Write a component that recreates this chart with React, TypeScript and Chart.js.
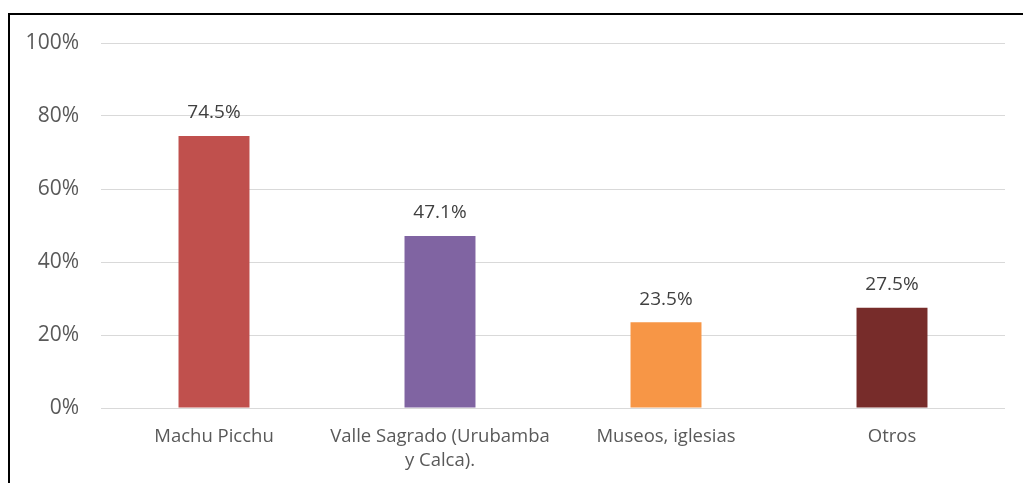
import React, { useEffect, useRef } from "react";
import { Chart, registerables } from "chart.js";

Chart.register(...registerables);

const categories: (string | string[])[] = [
  "Machu Picchu",
  ["Valle Sagrado (Urubamba", "y Calca)."],
  "Museos, iglesias",
  "Otros",
];
const values = [74.5, 47.1, 23.5, 27.5];
const barColors = ["#C0504D", "#8064A2", "#F79646", "#772C2A"];
const yTicks = [0, 20, 40, 60, 80, 100];

const FONT = "'Open Sans', 'DejaVu Sans', sans-serif";

const dataLabelPlugin = {
  id: "dataLabels",
  afterDatasetsDraw(chart: any) {
    const ctx = chart.ctx;
    const meta = chart.getDatasetMeta(0);
    ctx.save();
    ctx.font = `19px ${FONT}`;
    ctx.fillStyle = "#404040";
    ctx.textAlign = "center";
    ctx.textBaseline = "middle";
    meta.data.forEach((bar: any, i: number) => {
      ctx.fillText(values[i].toFixed(1) + "%", bar.x, bar.y - 23);
    });
    ctx.restore();
  },
};

export default function App() {
  const ref = useRef<HTMLCanvasElement>(null);
  useEffect(() => {
    if (!ref.current) return;
    const chart = new Chart(ref.current, {
      type: "bar",
      data: {
        labels: categories,
        datasets: [
          {
            data: values,
            backgroundColor: barColors,
            borderWidth: 0,
            categoryPercentage: 1,
            barPercentage: 0.314,
          },
        ],
      },
      options: {
        responsive: false,
        animation: false,
        layout: { padding: { top: 43, right: 18, left: 0, bottom: 0 } },
        plugins: { legend: { display: false }, tooltip: { enabled: false } },
        scales: {
          x: {
            grid: { display: false, drawTicks: false },
            border: { display: false },
            ticks: {
              color: "#595959",
              font: { family: FONT, size: 18.5, lineHeight: 1.3 },
              padding: 17,
              maxRotation: 0,
              autoSkip: false,
            },
            afterFit(scale: any) {
              scale.height = 75;
            },
          },
          y: {
            min: 0,
            max: 100,
            afterBuildTicks(scale: any) {
              scale.ticks = yTicks.map((v) => ({ value: v }));
            },
            grid: { color: "#D9D9D9", lineWidth: 1, drawTicks: false },
            border: { display: false },
            ticks: {
              color: "#595959",
              font: { family: FONT, size: 21 },
              padding: 22,
              callback: (v: any) => v + "%",
            },
            afterFit(scale: any) {
              scale.width = 101;
            },
          },
        },
      },
      plugins: [dataLabelPlugin],
    });
    return () => chart.destroy();
  }, []);
  return (
    <div style={{ position: "fixed", left: 0, top: 0, width: 1023, height: 483, background: "#fff" }}>
      <canvas ref={ref} width={1023} height={483} style={{ position: "absolute", left: 0, top: 0 }} />
      <div
        style={{
          position: "absolute",
          left: 8,
          top: 13,
          width: 1100,
          height: 600,
          borderLeft: "2px solid #000",
          borderTop: "2px solid #000",
          pointerEvents: "none",
        }}
      />
    </div>
  );
}
